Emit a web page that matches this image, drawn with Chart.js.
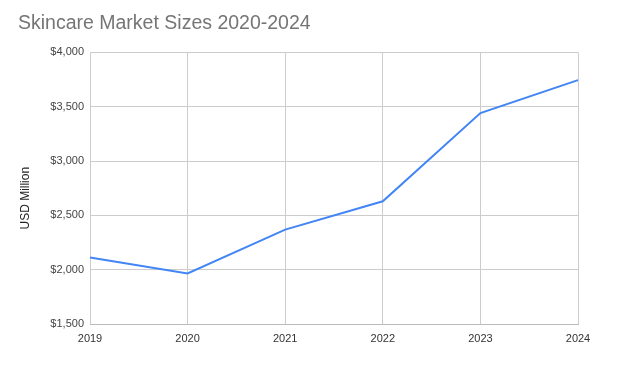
<!DOCTYPE html>
<html>
<head>
<meta charset="utf-8">
<script src="https://cdn.jsdelivr.net/npm/chart.js@4"></script>
<style>
  body { margin: 0; background: #fff; }
  canvas { display: block; }
</style>
</head>
<body>
<canvas id="marketChart" width="619" height="373"></canvas>
<script>
// Data
const years = ['2019', '2020', '2021', '2022', '2023', '2024'];
const marketSize = [2112, 1965, 2369, 2630, 3442, 3745];
const yTicks = [1500, 2000, 2500, 3000, 3500, 4000];

const fontFamily = '"Liberation Sans", Arial, sans-serif';

const ctx = document.getElementById('marketChart').getContext('2d');
const chart = new Chart(ctx, {
    type: 'line',
    data: {
        labels: years,
        datasets: [{
            label: 'Market Size',
            data: marketSize,
            borderColor: '#4285f4',
            borderWidth: 2,
            pointRadius: 0,
            tension: 0,
            fill: false
        }]
    },
    options: {
        responsive: false,
        animation: false,
        layout: {
            padding: { left: 18, right: 41, top: 0, bottom: 0 }
        },
        plugins: {
            legend: { display: false },
            tooltip: { enabled: false },
            title: {
                display: true,
                text: 'Skincare Market Sizes 2020-2024',
                align: 'start',
                color: '#757575',
                font: { family: fontFamily, size: 19.5, weight: 'normal' },
                padding: { top: 12, bottom: 17 }
            }
        },
        scales: {
            x: {
                offset: false,
                grid: { color: '#cccccc', drawTicks: false },
                border: { color: '#bbbbbb' },
                ticks: {
                    color: '#333',
                    padding: 8,
                    maxRotation: 0,
                    font: { family: fontFamily, size: 11 }
                },
                afterFit: scale => { scale.height = 49; }
            },
            y: {
                min: yTicks[0],
                max: yTicks[yTicks.length - 1],
                grid: { color: '#cccccc', drawTicks: false },
                border: { display: false },
                afterBuildTicks: scale => {
                    scale.ticks = yTicks.map(v => ({ value: v }));
                },
                ticks: {
                    color: '#444',
                    padding: 6,
                    font: { family: fontFamily, size: 11 },
                    callback: v => '$' + v.toLocaleString('en-US')
                },
                title: {
                    display: true,
                    // trailing spaces nudge the rotated label a bit lower, as in the original
                    text: 'USD Million      ',
                    color: '#222',
                    font: { family: fontFamily, size: 12 },
                    padding: { top: 0, bottom: 0 }
                },
                afterFit: scale => { scale.width = 72; }
            }
        }
    }
});
</script>
</body>
</html>
